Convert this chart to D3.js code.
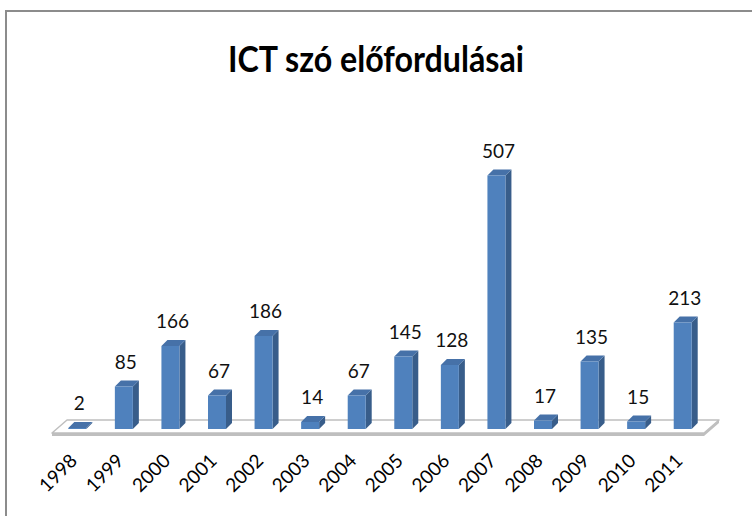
<!DOCTYPE html>
<html>
<head>
<meta charset="UTF-8">
<style>
  body { margin: 0; background: #fff; }
  text { font-family: Lato, "Open Sans", sans-serif; }
</style>
</head>
<body>
<svg width="752" height="516"></svg>
<script src="https://cdn.jsdelivr.net/npm/d3@7/dist/d3.min.js"></script>
<script>

var years = ["1998", "1999", "2000", "2001", "2002", "2003", "2004",
  "2005", "2006", "2007", "2008", "2009", "2010", "2011"];
var counts = [2, 85, 166, 67, 186, 14, 67, 145, 128, 507, 17, 135, 15, 213];
var title = "ICT szó előfordulásai";

var svg = d3.select("svg");

// chart frame (only top and left edges fall inside the picture)
svg.append("rect")
  .attr("x", 6).attr("y", 11)
  .attr("width", 800).attr("height", 600)
  .attr("fill", "none")
  .attr("stroke", "#8c8c8c")
  .attr("stroke-width", 2);

svg.append("text")
  .attr("x", 376).attr("y", 72)
  .attr("text-anchor", "middle")
  .attr("font-size", 37)
  .attr("font-weight", "bold")
  .attr("fill", "#000")
  .attr("textLength", 296)
  .attr("lengthAdjust", "spacingAndGlyphs")
  .text(title);

// floor geometry
var floorL = 52, floorR = 704, floorFront = 433,
  depthX = 15, depthY = 13;
var base = 429;       // bottom of bar fronts
var bx = 6, by = 6;   // bar depth

var x = d3.scaleBand()
  .domain(years)
  .range([floorL + 4, floorR + 4]);

var y = d3.scaleLinear()
  .domain([0, 600])
  .range([base, base - 300]);

var barW = 18;
var g = svg.append("g");

// floor slab
g.append("path")
  .attr("d", "M" + floorL + "," + floorFront + "L" + floorR + "," + floorFront +
    "L" + (floorR + depthX) + "," + (floorFront - depthY) +
    "L" + (floorR + depthX) + "," + (floorFront - depthY + 3) +
    "L" + floorR + "," + (floorFront + 3) +
    "L" + floorL + "," + (floorFront + 3) + "Z")
  .attr("fill", "#bfbfbf");

g.append("path")
  .attr("d", "M" + floorL + "," + floorFront + "L" + floorR + "," + floorFront +
    "L" + (floorR + depthX) + "," + (floorFront - depthY) +
    "L" + (floorL + depthX) + "," + (floorFront - depthY) + "Z")
  .attr("fill", "#fff")
  .attr("stroke", "#bfbfbf")
  .attr("stroke-width", 1.5)
  .attr("stroke-linejoin", "round");

var data = years.map(function(d, i) { return {year: d, value: counts[i]}; });

var bars = g.selectAll(".bar")
  .data(data)
  .enter().append("g")
  .attr("class", "bar");

function cx(d) { return x(d.year) + x.bandwidth() / 2 - 2; }

// side face
bars.append("path")
  .attr("d", function(d) {
    var x1 = cx(d) + barW / 2, t = y(d.value);
    return "M" + x1 + "," + t + "L" + (x1 + bx) + "," + (t - by) +
      "L" + (x1 + bx) + "," + (base - by) + "L" + x1 + "," + base + "Z";
  })
  .attr("fill", "#385d8a");

// top face
bars.append("path")
  .attr("d", function(d) {
    var x0 = cx(d) - barW / 2, t = y(d.value);
    return "M" + x0 + "," + t + "L" + (x0 + barW) + "," + t +
      "L" + (x0 + barW + bx) + "," + (t - by) + "L" + (x0 + bx) + "," + (t - by) + "Z";
  })
  .attr("fill", "#4671a8");

// front face
bars.append("rect")
  .attr("x", function(d) { return cx(d) - barW / 2; })
  .attr("y", function(d) { return y(d.value); })
  .attr("width", barW)
  .attr("height", function(d) { return base - y(d.value); })
  .attr("fill", "#4f81bd");

// value labels
bars.append("text")
  .attr("x", function(d) { return cx(d) + 2; })
  .attr("y", function(d) { return y(d.value) - 18; })
  .attr("text-anchor", "middle")
  .attr("font-size", 19)
  .attr("fill", "#111")
  .text(function(d) { return d.value; });

// year labels, rotated
g.selectAll(".year")
  .data(data)
  .enter().append("text")
  .attr("class", "year")
  .attr("transform", function(d) {
    return "translate(" + (cx(d) + 1) + ",462) rotate(-45)";
  })
  .attr("text-anchor", "end")
  .attr("font-size", 19)
  .attr("fill", "#000")
  .text(function(d) { return d.year; });

</script>
</body>
</html>
